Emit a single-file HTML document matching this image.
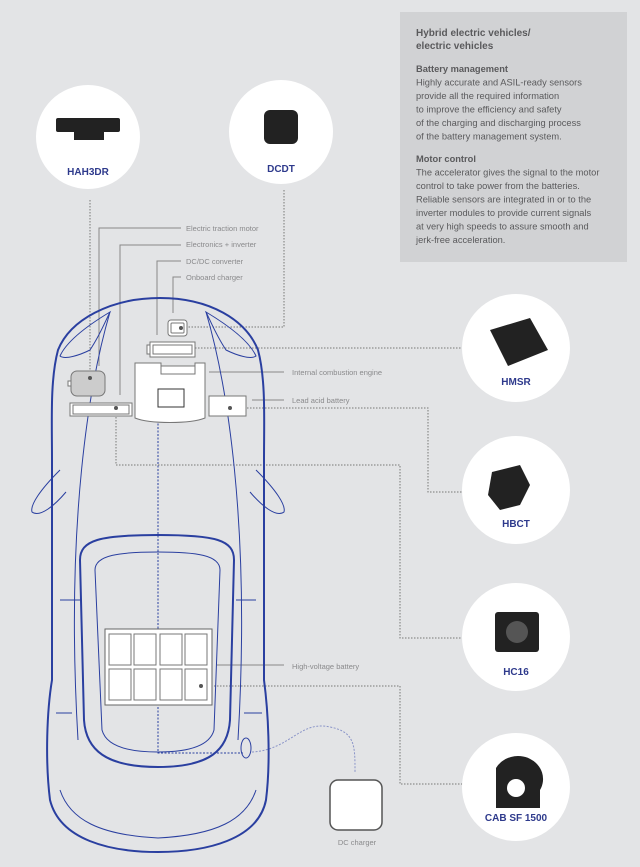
<!DOCTYPE html>
<html><head><meta charset="utf-8"><style>
html,body{margin:0;padding:0;background:#e3e4e6}
svg{display:block}
text{font-family:"Liberation Sans",sans-serif}
</style></head><body>
<svg width="640" height="867" viewBox="0 0 640 867" xmlns="http://www.w3.org/2000/svg">
<rect width="640" height="867" fill="#e3e4e6"/>
<!-- info box -->
<rect x="400" y="12" width="227" height="250" fill="#d1d2d4"/>
<g fill="#5a5a5c" font-size="9.3">
<text x="416" y="36" font-weight="bold" font-size="10">Hybrid electric vehicles/</text>
<text x="416" y="49" font-weight="bold" font-size="10">electric vehicles</text>
<text x="416" y="72" font-weight="bold">Battery management</text>
<text x="416" y="85.5">Highly accurate and ASIL-ready sensors</text>
<text x="416" y="99">provide all the required information</text>
<text x="416" y="112.5">to improve the efficiency and safety</text>
<text x="416" y="126">of the charging and discharging process</text>
<text x="416" y="139.5">of the battery management system.</text>
<text x="416" y="162" font-weight="bold">Motor control</text>
<text x="416" y="175.5">The accelerator gives the signal to the motor</text>
<text x="416" y="189">control to take power from the batteries.</text>
<text x="416" y="202.5">Reliable sensors are integrated in or to the</text>
<text x="416" y="216">inverter modules to provide current signals</text>
<text x="416" y="229.5">at very high speeds to assure smooth and</text>
<text x="416" y="243">jerk-free acceleration.</text>
</g>
<!-- dotted connectors -->
<g fill="none" stroke="#777" stroke-width="1" stroke-dasharray="1.5,1.5">
<path d="M90 200 V372"/>
<path d="M284 190 V327 H186"/>
<path d="M195 348 H462"/>
<path d="M232 408 H428 V492 H462"/>
<path d="M116 408 V465 H400 V638 H462"/>
<path d="M202 686 H400 V784 H462"/>
</g>
<g fill="none" stroke="#2a3fa0" stroke-width="1" stroke-dasharray="2,1.5">
<path d="M158 420 V753 H243"/>
<path d="M252 752 C290 750 300 720 330 727 C355 732 355 745 355 772" stroke="#8a94c8"/>
</g>
<!-- solid leader lines -->
<g fill="none" stroke="#888" stroke-width="1">
<path d="M181 228 H99 V366"/>
<path d="M181 245 H120 V395"/>
<path d="M181 261 H157 V335"/>
<path d="M181 277 H173 V313"/>
<path d="M209 372 H284"/>
<path d="M252 400 H284"/>
<path d="M217 665 H284"/>
</g>
<g fill="#8a8a8c" font-size="7.5">
<text x="186" y="231">Electric traction motor</text>
<text x="186" y="247">Electronics + inverter</text>
<text x="186" y="264">DC/DC converter</text>
<text x="186" y="280">Onboard charger</text>
<text x="292" y="375">Internal combustion engine</text>
<text x="292" y="403">Lead acid battery</text>
<text x="292" y="669">High-voltage battery</text>
<text x="357" y="845" text-anchor="middle">DC charger</text>
</g>
<!-- car -->
<g fill="none" stroke="#2a3fa0">
<path stroke-width="2" d="M160 298 C110 298 70 320 58 350 C50 380 52 420 52 460 L52 680 C47 710 45 760 50 800 C60 840 110 852 158 852 C206 852 258 840 266 800 C271 760 268 710 264 680 L264 460 C264 420 266 380 258 350 C246 320 210 298 160 298 Z"/>
<path stroke-width="2" d="M80 560 C80 540 100 535 158 535 C216 535 234 540 234 560 L230 720 C228 750 210 767 158 767 C106 767 86 750 84 720 Z"/>
<path stroke-width="1" d="M95 570 C95 555 120 552 158 552 C196 552 220 555 220 570 L214 730 C210 745 190 752 158 752 C126 752 106 745 102 730 Z"/>
<path stroke-width="1" d="M110 312 C80 330 65 345 60 356 C65 360 80 355 90 350 C100 335 105 322 110 312 Z"/>
<path stroke-width="1" d="M206 312 C236 330 251 345 256 356 C251 360 236 355 226 350 C216 335 211 322 206 312 Z"/>
<path stroke-width="1" d="M110 312 C90 380 65 520 78 740 M206 312 C226 380 251 520 238 740"/>
<path stroke-width="1" d="M60 470 C40 490 30 505 32 512 C40 518 55 505 66 492 M256 470 C276 490 286 505 284 512 C276 518 261 505 250 492"/>
<path stroke-width="1" d="M60 600 H80 M236 600 H256 M56 713 H72 M244 713 H262"/>
<path stroke-width="1" d="M60 790 C70 820 100 835 158 838 C216 835 246 820 256 790"/>
<ellipse cx="246" cy="748" rx="5" ry="10" stroke-width="1"/>
</g>
<!-- components -->
<g fill="#fff" stroke="#777" stroke-width="1">
<rect x="168" y="320" width="19" height="16" rx="3"/>
<rect x="171" y="323" width="13" height="10" rx="1"/>
<rect x="147" y="345" width="3" height="9"/>
<rect x="150" y="342" width="45" height="15"/>
<rect x="153" y="345" width="39" height="9"/>
<path d="M135 363 H161 V366 H195 V363 H205 V418 C190 424 150 424 135 418 Z"/>
<rect x="161" y="366" width="34" height="8"/>
<rect x="158" y="389" width="26" height="18" stroke="#333"/>
<rect x="71" y="371" width="34" height="25" rx="6" fill="#ccc"/>
<rect x="68" y="381" width="3" height="5"/>
<rect x="70" y="403" width="62" height="13"/>
<rect x="73" y="405" width="56" height="9"/>
<rect x="209" y="396" width="37" height="20"/>
<rect x="105" y="629" width="107" height="76" stroke="#666"/>
<rect x="330" y="780" width="52" height="50" rx="8" stroke="#555" stroke-width="1.5"/>
</g>
<g fill="#fff" stroke="#777" stroke-width="1">
<rect x="109" y="634" width="22" height="31"/><rect x="134" y="634" width="22" height="31"/><rect x="160" y="634" width="22" height="31"/><rect x="185" y="634" width="22" height="31"/>
<rect x="109" y="669" width="22" height="31"/><rect x="134" y="669" width="22" height="31"/><rect x="160" y="669" width="22" height="31"/><rect x="185" y="669" width="22" height="31"/>
</g>
<g fill="#555"><circle cx="181" cy="328" r="2"/><circle cx="90" cy="378" r="2"/><circle cx="116" cy="408" r="2"/><circle cx="230" cy="408" r="2"/><circle cx="201" cy="686" r="2"/></g>
<!-- product circles -->
<g fill="#fff">
<circle cx="88" cy="137" r="52"/><circle cx="281" cy="132" r="52"/>
<circle cx="516" cy="348" r="54"/><circle cx="516" cy="490" r="54"/>
<circle cx="516" cy="637" r="54"/><circle cx="516" cy="787" r="54"/>
</g>
<g fill="#222">
<rect x="56" y="118" width="64" height="14" rx="2"/><rect x="74" y="126" width="30" height="14"/>
<rect x="264" y="110" width="34" height="34" rx="6"/>
<path d="M490 330 L530 318 L548 350 L508 366 Z"/>
<path d="M492 472 L520 465 L530 485 L520 505 L500 510 L488 495 Z"/>
<rect x="495" y="612" width="44" height="40" rx="3"/>
<path d="M496 768 A24 22 0 1 1 540 790 L540 808 L496 808 Z"/>
</g>
<g fill="#555"><circle cx="517" cy="632" r="11"/></g>
<g fill="#fff"><circle cx="516" cy="788" r="9"/></g>
<g fill="#2e3a8c" font-size="10" font-weight="bold" text-anchor="middle">
<text x="88" y="175">HAH3DR</text>
<text x="281" y="172">DCDT</text>
<text x="516" y="385">HMSR</text>
<text x="516" y="527">HBCT</text>
<text x="516" y="675">HC16</text>
<text x="516" y="821">CAB SF 1500</text>
</g>
</svg>
</body></html>
